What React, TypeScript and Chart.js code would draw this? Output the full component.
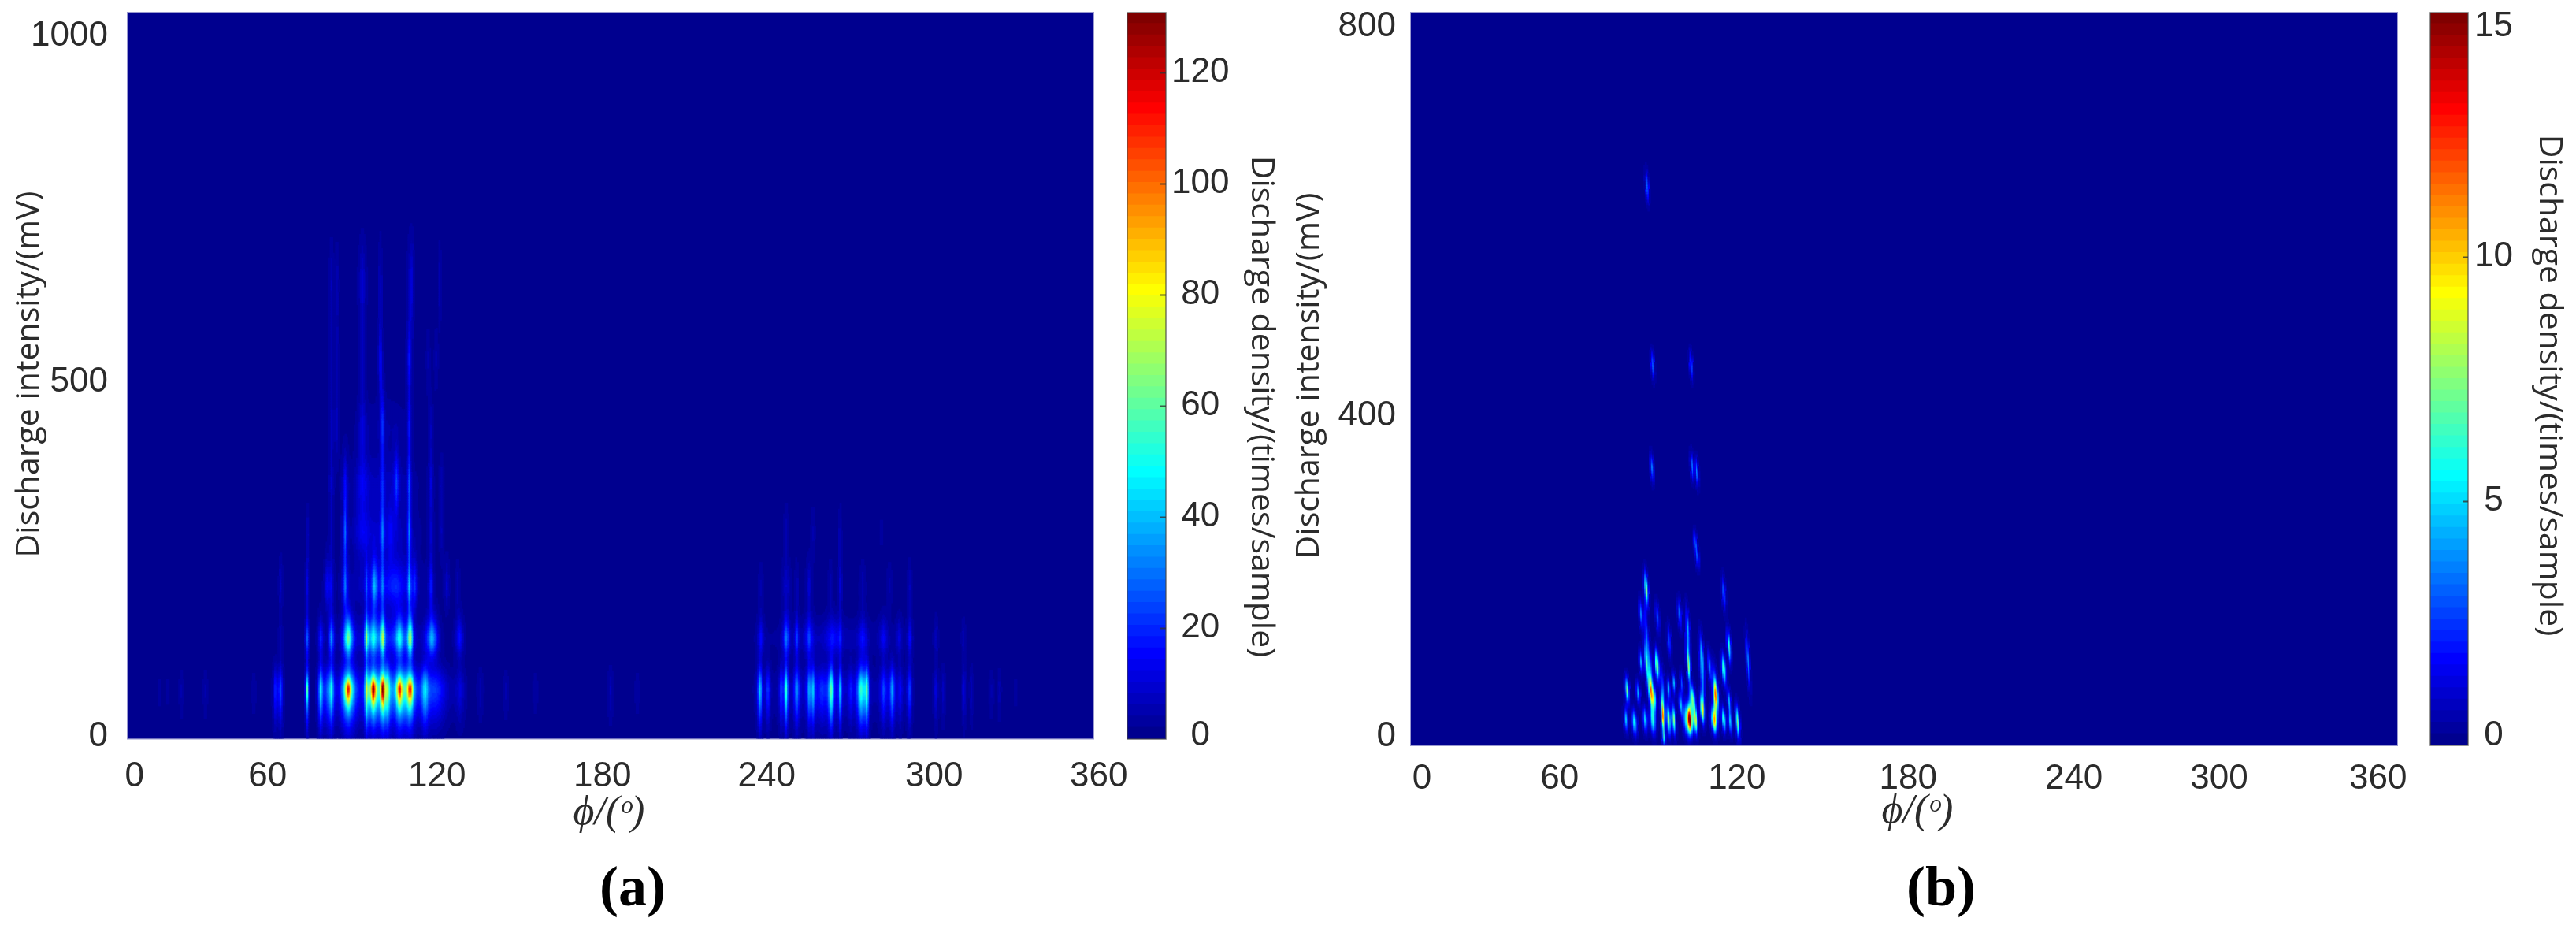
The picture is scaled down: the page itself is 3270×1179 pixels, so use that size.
import { useEffect, useRef } from "react";
import { Chart, registerables } from "chart.js";

Chart.register(...registerables);

// Density peaks, one table per row of discharge intensity.
// Each peak is [phase in degrees, density, phase half-width]. The heat cells are built from these.
const aRow70Core = [
  [67, 25, 0.4], [82.2, 65, 1.0], [91.6, 70, 0.9], [95.1, 75, 0.6], [101.4, 55, 0.9], [105.3, 62, 0.9],
];
const aRow70 = [
  [12, 3, 0.8], [15, 3, 0.7], [20, 5, 0.8], [29, 5, 0.8], [47, 4, 1], [55, 20, 0.7], [57, 27, 0.8],
  [67, 48, 0.5], [72, 50, 0.9], [74.3, 22, 0.8], [76, 52, 0.9], [82.2, 55, 2.4], [89, 60, 0.6],
  [91.6, 52, 1.7], [95.1, 55, 0.9], [97, 45, 0.9], [101.4, 48, 1.7], [105.3, 52, 1.7],
  [110.8, 36, 1.3], [114.9, 14, 3], [96, 22, 8], [114, 8, 6], [124, 10, 1.5], [131.5, 6, 1],
  [141, 5, 1], [152, 4, 1], [180, 7, 0.9], [190, 4, 1],
  [235.7, 45, 0.8], [238.7, 22, 0.7], [243.6, 20, 0.7], [245.5, 55, 0.6], [249.4, 30, 0.9],
  [253.9, 30, 0.8], [255.6, 34, 0.7], [258.8, 14, 1.5], [262.2, 58, 0.9], [265.6, 40, 0.55],
  [269.5, 12, 0.7], [273.4, 50, 1.3], [275.6, 50, 0.7], [281.8, 22, 1.1], [285, 36, 0.9],
  [288, 14, 0.9], [291.4, 24, 0.8], [301.3, 13, 0.7], [304, 8, 0.7], [311.8, 12, 0.6],
  [314.6, 8, 0.6], [322, 5, 0.8], [325, 6, 0.6], [331, 3, 0.8], [262, 9, 18],
];
const aRow141 = [
  [57, 6, 0.7], [67, 30, 0.55], [72, 20, 0.9], [76, 35, 0.9], [82.2, 62, 1.5], [89, 60, 0.6],
  [91.6, 38, 1.5], [95.1, 62, 0.7], [101.4, 40, 1.4], [105.3, 72, 0.9], [113.4, 38, 1.8],
  [123.7, 18, 1.3], [96, 18, 9],
  [236, 15, 1], [245.5, 28, 1], [249.4, 24, 0.6], [254, 20, 1.2], [262.7, 12, 2], [265.6, 12, 0.6],
  [274, 13, 1.3], [281.8, 12, 1.4], [287.6, 10, 1], [291.5, 15, 0.8], [301.3, 8, 0.7], [311.6, 6, 0.7],
  [262, 6, 18],
];
const aRow215 = [
  [57.1, 9, 0.6], [67, 14, 0.5], [74.3, 15, 0.8], [76, 14, 0.7], [81.1, 28, 0.9], [89, 22, 0.5],
  [92, 30, 1], [95, 22, 0.5], [100.2, 10, 3], [105, 36, 0.6], [107, 18, 0.7], [113, 17, 0.8],
  [119, 9, 0.8], [123, 6, 0.8], [96, 12, 10],
  [236, 5, 0.8], [245.5, 8, 1.5], [249.4, 6, 0.6], [254, 10, 1], [262, 6, 0.8], [265.6, 12, 0.6],
  [274, 6, 1], [284, 5, 1], [291.5, 7, 0.7],
];
const aRow290 = [
  [67, 7, 0.5], [76, 6, 0.7], [81.1, 28, 0.7], [87.5, 9, 2.5], [95, 26, 0.6], [98, 8, 1],
  [105, 28, 0.6], [113, 7, 0.8], [117, 6, 0.7], [96, 8, 9],
  [245.5, 6, 0.8], [255.5, 5, 0.7], [265.6, 6, 0.5], [281, 3, 0.7],
];
const aRow360 = [
  [76, 8, 0.7], [81.1, 14, 0.9], [87.5, 10, 2], [95, 12, 0.6], [100.2, 20, 0.8], [105, 22, 0.6],
  [113, 10, 0.7], [117, 6, 0.7], [96, 6, 9],
];
const aRow440 = [[76, 8, 0.7], [78, 8, 0.7], [87.5, 9, 1.2], [95, 20, 0.6], [105, 16, 0.6], [113, 6, 0.7], [96, 4, 9]];
const aRow535 = [[76, 6, 0.7], [78, 6, 0.6], [87.5, 7, 1], [94.2, 16, 0.7], [105, 18, 0.7], [112, 5, 0.7], [115, 5, 0.7]];
const aRow640 = [[76, 7, 0.7], [78, 6, 0.6], [87.5, 10, 1.2], [94.2, 8, 0.6], [105, 7, 0.8], [106, 10, 0.6], [116.4, 6, 0.5]];

// [row intensity in mV, reach upward in mV, reach downward in mV, peaks]
const aRows: [number, number, number, number[][]][] = [
  [70, 14, 20, aRow70Core],
  [70, 30, 48, aRow70],
  [141, 30, 24, aRow141],
  [215, 38, 32, aRow215],
  [290, 42, 38, aRow290],
  [360, 42, 42, aRow360],
  [440, 48, 48, aRow440],
  [535, 48, 48, aRow535],
  [640, 62, 62, aRow640],
];

// Panel (b) streaks: [phase, intensity, density, phase half-width, intensity half-length]
const bStreaks = [
  [78.95, 60, 8, 0.6, 13], [78.5, 28, 5, 0.65, 12], [81.6, 25, 6, 0.75, 13], [85.9, 171, 9, 0.55, 16],
  [84, 143, 4, 0.55, 15], [90, 140, 3, 0.55, 16], [94.3, 114, 3, 0.55, 16], [98.1, 143, 4, 0.55, 15],
  [101.1, 128, 4, 0.55, 22], [101.3, 88, 7, 0.55, 15], [104.6, 205, 3, 0.55, 12], [114.2, 166, 4, 0.55, 16],
  [116.1, 108, 7, 0.55, 16], [114.2, 83, 8, 0.65, 15], [123.1, 91, 4, 0.5, 28], [85.9, 91, 7, 0.55, 20],
  [87.4, 60, 10, 0.65, 15], [89.8, 88, 9, 0.65, 15], [88.8, 51, 7, 0.7, 13], [84, 91, 5, 0.5, 12],
  [83, 57, 5, 0.55, 12], [106.3, 97, 5, 0.55, 22], [106.3, 40, 11, 0.6, 14], [108.9, 88, 4, 0.55, 15],
  [111.3, 54, 9, 0.8, 15], [110.7, 28, 11, 0.9, 13], [91.9, 34, 12.5, 0.55, 18], [92.4, 8, 5, 0.55, 8],
  [94.1, 28, 8, 0.6, 15], [96, 28, 8, 0.6, 15], [94.1, 62, 5, 0.5, 11], [96, 68, 5, 0.5, 11],
  [101.9, 28, 14.5, 0.7, 13], [100.8, 28, 7, 1.1, 16], [102.7, 51, 7, 0.9, 14], [103.9, 28, 9, 0.65, 14],
  [98.4, 45, 5, 0.6, 12], [98.9, 68, 3, 0.55, 12], [114.2, 28, 8, 0.6, 12], [116.1, 48, 5, 0.55, 12],
  [116.6, 25, 5, 0.6, 12], [119.3, 25, 8, 0.6, 16], [85.5, 28, 5, 0.7, 13], [88.3, 28, 6, 0.9, 15],
  [87.5, 80, 4, 0.6, 30], [85.9, 125, 3, 0.5, 30], [101.1, 100, 3, 0.5, 30], [106.3, 70, 4, 0.55, 30],
  [111, 60, 4, 0.8, 25], [92, 60, 3, 0.6, 25],
  [86.2, 610, 4, 0.5, 15], [88.3, 415, 4, 0.5, 14], [102.3, 415, 4, 0.5, 14], [88, 303, 4, 0.5, 14],
  [102.6, 305, 4, 0.5, 14], [104.4, 298, 4, 0.5, 14], [103.8, 222, 3, 0.5, 12],
];

// Tick labels and where the reference actually puts them (its labels are not on the even ticks)
const phiLabels = ["0", "60", "120", "180", "240", "300", "360"];
const aPhiLabelAt = [2.6, 52.2, 115.3, 177, 238.2, 300.6, 362];
const bPhiLabelAt = [4, 54.3, 119, 181.5, 242, 295, 353];
const aMvLabels = ["1000", "500", "0"];
const aMvLabelAt = [990, 503, 3];
const bMvLabels = ["800", "400", "0"];
const bMvLabelAt = [785, 360, 10];
const aDensityLabels = ["120", "100", "80", "60", "40", "20", "0"];
const aDensityLabelAt = [120, 100, 80, 60, 40, 20, 0.6];
const aDensityTicks = [true, true, true, true, true, true, false];
const bDensityLabels = ["15", "10", "5", "0"];
const bDensityLabelAt = [14.72, 10, 5, 0.2];
const bDensityTicks = [false, true, true, false];

const A_MV_MAX = 1023;
const B_MV_MAX = 800;
const A_DENSITY_MAX = 130.8;
const B_DENSITY_MAX = 15;

const TICK_FONT = "'Liberation Sans', Arial, sans-serif";
const TITLE_FONT = "'Open Sans', sans-serif";
const MATH_FONT = "'Liberation Serif', serif";
const INK = "#2b2b2b";
const W = 3270;
const H = 1179;

function clamp01(v: number) {
  return Math.max(0, Math.min(1, v));
}
const JET = Array.from({ length: 64 }, (_, i) => {
  const t = (i + 1) / 64;
  const c = (o: number) => Math.round(255 * clamp01(1.5 - Math.abs(4 * t - o)));
  return `rgb(${c(3)},${c(2)},${c(1)})`;
});

type Blob = { phi: number; mv: number; den: number; w: number; up: number; down: number };

function cellsByLevel(
  blobs: Blob[],
  mvMax: number,
  mvStep: number,
  zMax: number,
  power: number,
  tilt: number,
) {
  const phiStep = 0.5;
  const cols = Math.ceil(360 / phiStep);
  const rows = Math.ceil(mvMax / mvStep);
  const field = new Float32Array(cols * rows);
  for (const b of blobs) {
    const r0 = Math.max(0, Math.floor((b.mv - 3.5 * b.down) / mvStep));
    const r1 = Math.min(rows - 1, Math.ceil((b.mv + 3.5 * b.up) / mvStep));
    for (let r = r0; r <= r1; r++) {
      const mv = (r + 0.5) * mvStep;
      const dy = Math.abs(mv - b.mv) / (mv > b.mv ? b.up : b.down);
      const centre = b.phi + tilt * (mv - b.mv);
      const c0 = Math.max(0, Math.floor((centre - 4 * b.w) / phiStep));
      const c1 = Math.min(cols - 1, Math.ceil((centre + 4 * b.w) / phiStep));
      for (let c = c0; c <= c1; c++) {
        const dx = Math.abs((c + 0.5) * phiStep - centre) / b.w;
        field[r * cols + c] += b.den * Math.exp(-(dx ** power + dy ** power));
      }
    }
  }
  const levels: { x: number; y: number }[][] = JET.map(() => []);
  for (let r = 0; r < rows; r++) {
    for (let c = 0; c < cols; c++) {
      const level = Math.min(63, Math.floor((field[r * cols + c] / zMax) * 64));
      if (level > 0) levels[level].push({ x: (c + 0.5) * phiStep, y: (r + 0.5) * mvStep });
    }
  }
  return levels;
}

type PageText = { text: string; x: number; y: number; font: string; rotate?: number; color?: string };

const pageText = (items: PageText[]) => ({
  id: "pageText",
  afterDraw(chart: any) {
    const ctx = chart.ctx;
    for (const t of items) {
      ctx.save();
      ctx.translate(t.x, t.y);
      ctx.rotate(((t.rotate ?? 0) * Math.PI) / 180);
      ctx.font = t.font;
      ctx.fillStyle = t.color ?? INK;
      ctx.textAlign = "center";
      ctx.textBaseline = "middle";
      ctx.fillText(t.text, 0, 0);
      ctx.restore();
    }
  },
});

const plotFill = {
  id: "plotFill",
  beforeDatasetsDraw(chart: any) {
    const { ctx, chartArea: a } = chart;
    ctx.save();
    ctx.fillStyle = JET[0];
    ctx.fillRect(a.left, a.top, a.right - a.left, a.bottom - a.top);
    ctx.restore();
  },
  afterDatasetsDraw(chart: any) {
    const { ctx, chartArea: a } = chart;
    ctx.save();
    ctx.strokeStyle = "rgba(70,70,170,0.55)";
    ctx.lineWidth = 1;
    ctx.strokeRect(a.left - 0.5, a.top - 0.5, a.right - a.left + 1, a.bottom - a.top + 1);
    ctx.restore();
  },
};

const barFrame = {
  id: "barFrame",
  afterDatasetsDraw(chart: any) {
    const { ctx, chartArea: a } = chart;
    ctx.save();
    ctx.strokeStyle = "rgba(70,70,70,0.75)";
    ctx.lineWidth = 1.5;
    ctx.strokeRect(a.left, a.top, a.right - a.left, a.bottom - a.top);
    ctx.restore();
  },
};

function placeTicks(at: number[], labels: string[]) {
  return {
    afterBuildTicks: (s: any) => {
      s.ticks = at.map((value) => ({ value }));
    },
    callback: (_v: any, i: number) => labels[i],
  };
}

function noScalePadding(s: any) {
  s.paddingTop = 0;
  s.paddingBottom = 0;
  s.paddingLeft = 0;
  s.paddingRight = 0;
}

function heatChart(
  canvas: HTMLCanvasElement,
  box: { left: number; right: number; top: number; bottom: number },
  levels: { x: number; y: number }[][],
  mvMax: number,
  phiAt: number[],
  mvAt: number[],
  mvLabels: string[],
  yPad: number,
  xPad: number,
  texts: PageText[],
) {
  const yWidth = 130;
  const xHeight = 80;
  const xPlace = placeTicks(phiAt, phiLabels);
  const yPlace = placeTicks(mvAt, mvLabels);
  return new Chart(canvas, {
    type: "scatter",
    data: {
      datasets: levels
        .map((data, i) => ({
          label: `level ${i}`,
          data,
          parsing: false,
          normalized: true,
          showLine: false,
          clip: 0,
          pointStyle: "rect",
          pointRadius: 1.85,
          pointHoverRadius: 0,
          pointBorderWidth: 0,
          pointBackgroundColor: JET[i],
        }))
        .filter((d) => d.data.length > 0) as any,
    },
    options: {
      responsive: false,
      animation: false,
      events: [],
      layout: {
        autoPadding: false,
        padding: {
          left: box.left - yWidth,
          right: W - box.right,
          top: box.top,
          bottom: H - box.bottom - xHeight,
        },
      },
      plugins: { legend: { display: false }, tooltip: { enabled: false }, title: { display: false } },
      scales: {
        x: {
          type: "linear",
          min: 0,
          max: 360,
          grid: { display: false },
          border: { display: false },
          afterBuildTicks: xPlace.afterBuildTicks,
          afterFit: (s: any) => {
            s.height = xHeight;
            noScalePadding(s);
          },
          ticks: {
            autoSkip: false,
            maxRotation: 0,
            padding: xPad,
            color: INK,
            font: { family: TICK_FONT, size: 44 },
            callback: xPlace.callback,
          },
        },
        y: {
          type: "linear",
          min: 0,
          max: mvMax,
          grid: { display: false },
          border: { display: false },
          afterBuildTicks: yPlace.afterBuildTicks,
          afterFit: (s: any) => {
            s.width = yWidth;
            noScalePadding(s);
          },
          ticks: {
            autoSkip: false,
            padding: yPad,
            color: INK,
            font: { family: TICK_FONT, size: 44 },
            callback: yPlace.callback,
          },
        },
      },
    } as any,
    plugins: [plotFill, pageText(texts)] as any,
  });
}

function colorbarChart(
  canvas: HTMLCanvasElement,
  box: { left: number; right: number; top: number; bottom: number },
  zMax: number,
  at: number[],
  labels: string[],
  showTick: boolean[],
  padding: number,
  texts: PageText[],
) {
  const yWidth = 90;
  const place = placeTicks(at, labels);
  const band = zMax / 64;
  return new Chart(canvas, {
    type: "bar",
    data: {
      labels: ["colorbar"],
      datasets: JET.map((color, i) => ({
        label: `band ${i}`,
        data: [[i * band, Math.min(zMax, (i + 1) * band + band * 0.05)]],
        backgroundColor: color,
        borderWidth: 0,
        grouped: false,
        barPercentage: 1,
        categoryPercentage: 1,
      })) as any,
    },
    options: {
      responsive: false,
      animation: false,
      events: [],
      layout: {
        autoPadding: false,
        padding: {
          left: box.left,
          right: W - box.right - yWidth,
          top: box.top,
          bottom: H - box.bottom,
        },
      },
      plugins: { legend: { display: false }, tooltip: { enabled: false }, title: { display: false } },
      scales: {
        x: { display: false, grid: { display: false } },
        y: {
          position: "right",
          type: "linear",
          min: 0,
          max: zMax,
          border: { display: false },
          grid: {
            drawOnChartArea: false,
            drawTicks: true,
            tickLength: -7,
            tickWidth: 2,
            tickColor: (c: any) => (showTick[c.index] ? "rgba(50,50,50,0.8)" : "rgba(0,0,0,0)"),
            z: 1,
          },
          afterBuildTicks: place.afterBuildTicks,
          afterFit: (s: any) => {
            s.width = yWidth;
            noScalePadding(s);
          },
          ticks: {
            autoSkip: false,
            padding,
            crossAlign: "center",
            color: INK,
            font: { family: TICK_FONT, size: 44 },
            callback: place.callback,
          },
        },
      },
    } as any,
    plugins: [barFrame, pageText(texts)] as any,
  });
}

export default function App() {
  const heatA = useRef<HTMLCanvasElement>(null);
  const barA = useRef<HTMLCanvasElement>(null);
  const heatB = useRef<HTMLCanvasElement>(null);
  const barB = useRef<HTMLCanvasElement>(null);

  useEffect(() => {
    const aBlobs: Blob[] = aRows.flatMap(([mv, up, down, peaks]) =>
      peaks.map(([phi, den, w]) => ({ phi, mv, den, w: w * 1.2, up, down })),
    );
    const bBlobs: Blob[] = bStreaks.map(([phi, mv, den, w, len]) => ({
      phi,
      mv,
      den: den * 1.05,
      w: w * 1.15,
      up: len,
      down: len,
    }));
    const aLevels = cellsByLevel(aBlobs, A_MV_MAX, 2.2, A_DENSITY_MAX, 1.7, 0);
    const bLevels = cellsByLevel(bBlobs, B_MV_MAX, 1.72, B_DENSITY_MAX, 1.9, -0.02);

    const yTitle = "Discharge intensity/(mV)";
    const zTitle = "Discharge density/(times/sample)";
    const xTitle = "\u03D5/(\u1D52)";
    const titleFont = `41px ${TITLE_FONT}`;
    const mathFont = `italic 52px ${MATH_FONT}`;
    const capFont = `bold 72px ${MATH_FONT}`;

    const charts = [
      heatChart(
        heatA.current!,
        { left: 162, right: 1388, top: 16, bottom: 937.5 },
        aLevels,
        A_MV_MAX,
        aPhiLabelAt,
        aMvLabelAt,
        aMvLabels,
        17,
        14,
        [
          { text: yTitle, x: 37, y: 475, font: titleFont, rotate: -90 },
          { text: xTitle, x: 773, y: 1032, font: mathFont },
          { text: "(a)", x: 803, y: 1130, font: capFont, color: "#000" },
        ],
      ),
      colorbarChart(
        barA.current!,
        { left: 1431, right: 1480, top: 16, bottom: 938 },
        A_DENSITY_MAX,
        aDensityLabelAt,
        aDensityLabels,
        aDensityTicks,
        14,
        [{ text: zTitle, x: 1601, y: 516, font: titleFont, rotate: 90 }],
      ),
      heatChart(
        heatB.current!,
        { left: 1791, right: 3043, top: 16, bottom: 946 },
        bLevels,
        B_MV_MAX,
        bPhiLabelAt,
        bMvLabelAt,
        bMvLabels,
        11,
        8,
        [
          { text: yTitle, x: 1662, y: 477, font: titleFont, rotate: -90 },
          { text: xTitle, x: 2434, y: 1030, font: mathFont },
          { text: "(b)", x: 2464, y: 1130, font: capFont, color: "#000" },
        ],
      ),
      colorbarChart(
        barB.current!,
        { left: 3085, right: 3133, top: 16, bottom: 946 },
        B_DENSITY_MAX,
        bDensityLabelAt,
        bDensityLabels,
        bDensityTicks,
        15,
        [{ text: zTitle, x: 3236, y: 489, font: titleFont, rotate: 90 }],
      ),
    ];
    return () => charts.forEach((c) => c.destroy());
  }, []);

  const layer = { position: "absolute", left: 0, top: 0 } as const;
  return (
    <div style={{ position: "absolute", left: 0, top: 0, width: W, height: H, overflow: "hidden", background: "#fff" }}>
      <canvas ref={heatA} width={W} height={H} style={layer} />
      <canvas ref={barA} width={W} height={H} style={layer} />
      <canvas ref={heatB} width={W} height={H} style={layer} />
      <canvas ref={barB} width={W} height={H} style={layer} />
    </div>
  );
}
